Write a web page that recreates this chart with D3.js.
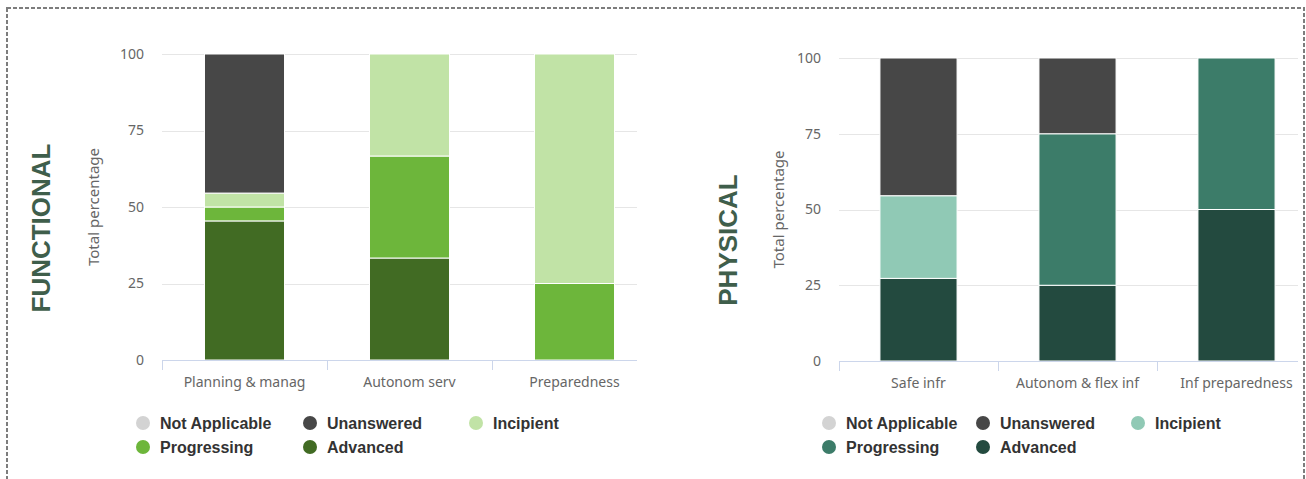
<!DOCTYPE html>
<html>
<head>
<meta charset="utf-8">
<script src="https://cdn.jsdelivr.net/npm/d3@7"></script>
<style>
  html, body { margin: 0; padding: 0; background: #fff; }
  svg { display: block; }
</style>
</head>
<body>
<svg id="chart" width="1306" height="479"></svg>
<script>
// Maturity levels, stacked bottom to top
const levels = ["Advanced", "Progressing", "Incipient", "Unanswered", "Not Applicable"];
// Legend order
const legendOrder = ["Not Applicable", "Unanswered", "Incipient", "Progressing", "Advanced"];
const yTicks = [0, 25, 50, 75, 100];

// Functional dimension
const functionalCategories = ["Planning & manag", "Autonom serv", "Preparedness"];
const functionalAdvanced    = [45.45, 33.33, 0];
const functionalProgressing = [4.55, 33.33, 25];
const functionalIncipient   = [4.55, 33.34, 75];
const functionalUnanswered  = [45.45, 0, 0];
const functionalNotApplic   = [0, 0, 0];
const functionalColors = {
  "Not Applicable": "#d3d3d3",
  "Unanswered": "#474747",
  "Incipient": "#c1e3a6",
  "Progressing": "#6db63b",
  "Advanced": "#416b23"
};

// Physical dimension
const physicalCategories = ["Safe infr", "Autonom & flex inf", "Inf preparedness"];
const physicalAdvanced    = [27.27, 25, 50];
const physicalProgressing = [0, 50, 50];
const physicalIncipient   = [27.28, 0, 0];
const physicalUnanswered  = [45.45, 25, 0];
const physicalNotApplic   = [0, 0, 0];
const physicalColors = {
  "Not Applicable": "#d3d3d3",
  "Unanswered": "#474747",
  "Incipient": "#90c9b5",
  "Progressing": "#3c7c69",
  "Advanced": "#234a3f"
};

const svg = d3.select("#chart");
const labelFont = "'Noto Sans', 'Open Sans', sans-serif";

// Dashed frame around both panels
svg.append("rect")
  .attr("x", 7).attr("y", 8)
  .attr("width", 1297).attr("height", 490)
  .attr("fill", "none")
  .attr("stroke", "#7d7d7d")
  .attr("stroke-width", 2)
  .attr("stroke-dasharray", "4 2");

function drawPanel(cfg) {
  const rows = cfg.categories.map((c, i) => {
    const r = { category: c };
    levels.forEach(l => { r[l] = cfg.series[l][i]; });
    return r;
  });
  const stacked = d3.stack().keys(levels)(rows);

  const x = d3.scaleBand()
    .domain(cfg.categories)
    .range([cfg.left, cfg.bandRight])
    .paddingInner(0.515)
    .paddingOuter(0.2575);
  const y = d3.scaleLinear().domain([0, 100]).range([cfg.bottom, cfg.top]);

  const g = svg.append("g");

  // Horizontal grid lines
  g.append("g").selectAll("line")
    .data(yTicks.filter(t => t > 0))
    .join("line")
    .attr("x1", cfg.left).attr("x2", cfg.plotRight)
    .attr("y1", d => Math.round(y(d)) + 0.5)
    .attr("y2", d => Math.round(y(d)) + 0.5)
    .attr("stroke", "#e6e6e6")
    .attr("stroke-width", 1);

  // Y-axis tick labels
  const yAxis = d3.axisLeft(y).tickValues(yTicks).tickSize(0).tickPadding(0);
  const ya = g.append("g")
    .attr("transform", `translate(${cfg.left - 18},0)`)
    .call(yAxis);
  ya.select(".domain").remove();
  ya.selectAll("text")
    .attr("font-family", labelFont)
    .attr("font-size", 14)
    .attr("fill", "#666");

  // Stacked bars
  g.append("g").selectAll("g")
    .data(stacked)
    .join("g")
    .attr("fill", d => cfg.colors[d.key])
    .selectAll("rect")
    .data(d => d.filter(p => p[1] - p[0] > 0))
    .join("rect")
    .attr("x", d => x(d.data.category))
    .attr("width", x.bandwidth())
    .attr("y", d => y(d[1]))
    .attr("height", d => y(d[0]) - y(d[1]))
    .attr("stroke", "#fff")
    .attr("stroke-width", 1);

  // X axis: line, category separators and labels
  const xa = g.append("g").attr("transform", `translate(0,${cfg.bottom})`);
  xa.append("line")
    .attr("x1", cfg.left).attr("x2", cfg.plotRight)
    .attr("y1", 0.5).attr("y2", 0.5)
    .attr("stroke", "#ccd6eb");
  const bounds = cfg.categories.map(c => x(c) - x.step() * x.paddingInner() / 2);
  xa.selectAll("line.sep")
    .data(bounds.map(b => b < cfg.left ? cfg.left : b))
    .join("line")
    .attr("class", "sep")
    .attr("x1", d => Math.round(d) + 0.5).attr("x2", d => Math.round(d) + 0.5)
    .attr("y1", 0).attr("y2", 10)
    .attr("stroke", "#ccd6eb");
  xa.selectAll("text")
    .data(cfg.categories)
    .join("text")
    .attr("x", d => x(d) + x.bandwidth() / 2)
    .attr("y", 27)
    .attr("text-anchor", "middle")
    .attr("font-family", labelFont)
    .attr("font-size", 14)
    .attr("fill", "#666")
    .text(d => d);

  // Y-axis title
  g.append("text")
    .attr("transform", `translate(${cfg.yTitleX},${(cfg.top + cfg.bottom) / 2}) rotate(-90)`)
    .attr("text-anchor", "middle")
    .attr("font-family", labelFont)
    .attr("font-size", 15)
    .attr("fill", "#666")
    .text("Total percentage");

  // Panel title
  g.append("text")
    .attr("transform", `translate(${cfg.titleX},${cfg.titleY}) rotate(-90)`)
    .attr("text-anchor", "middle")
    .attr("font-family", "'Liberation Sans', Arial, sans-serif")
    .attr("font-weight", "bold")
    .attr("font-size", 26)
    .attr("fill", "#3f5e4b")
    .text(cfg.title);

  // Legend
  const lg = g.append("g");
  legendOrder.forEach((name, i) => {
    const col = i % 3, row = Math.floor(i / 3);
    const cx = cfg.legendCols[col];
    const cy = 423 + row * 24;
    lg.append("circle")
      .attr("cx", cx).attr("cy", cy).attr("r", 7)
      .attr("fill", cfg.colors[name]);
    lg.append("text")
      .attr("x", cx + 17).attr("y", cy)
      .attr("dy", "0.35em")
      .attr("font-family", "'Liberation Sans', Arial, sans-serif")
      .attr("font-weight", "bold")
      .attr("font-size", 16)
      .attr("fill", "#333")
      .text(name);
  });
}

drawPanel({
  title: "FUNCTIONAL",
  categories: functionalCategories,
  series: {
    "Advanced": functionalAdvanced,
    "Progressing": functionalProgressing,
    "Incipient": functionalIncipient,
    "Unanswered": functionalUnanswered,
    "Not Applicable": functionalNotApplic
  },
  colors: functionalColors,
  left: 162, bandRight: 657, plotRight: 637,
  top: 54, bottom: 360,
  yTitleX: 99, titleX: 50, titleY: 228,
  legendCols: [143, 310, 476]
});

drawPanel({
  title: "PHYSICAL",
  categories: physicalCategories,
  series: {
    "Advanced": physicalAdvanced,
    "Progressing": physicalProgressing,
    "Incipient": physicalIncipient,
    "Unanswered": physicalUnanswered,
    "Not Applicable": physicalNotApplic
  },
  colors: physicalColors,
  left: 839, bandRight: 1316, plotRight: 1298,
  top: 58, bottom: 361,
  yTitleX: 784, titleX: 737, titleY: 240,
  legendCols: [829, 983, 1138]
});
</script>
</body>
</html>
